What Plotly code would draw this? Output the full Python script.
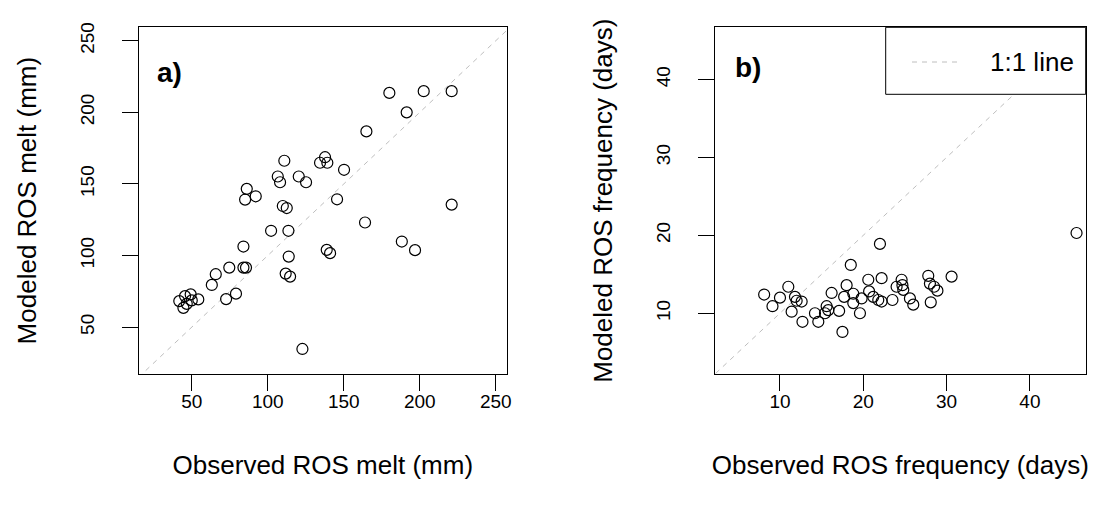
import plotly.graph_objects as go

# Panel a: ROS melt (mm)
obs_melt = [180.0, 202.6, 221.0, 191.4, 164.9, 110.9, 137.7, 134.4, 139.2, 150.2,
            106.6, 108.1, 120.4, 125.2, 86.2, 85.1, 92.1, 145.6, 109.9, 112.5,
            221.0, 164.0, 102.2, 113.6, 188.2, 196.9, 138.8, 141.0, 84.0, 113.8,
            74.7, 84.0, 85.7, 65.8, 63.2, 111.8, 114.7, 79.1, 72.6, 122.8,
            41.8, 44.5, 45.6, 49.3, 50.0, 54.3, 46.7]
mod_melt = [213.6, 214.8, 214.8, 200.0, 186.7, 166.2, 168.7, 164.8, 164.8, 159.9,
            155.2, 151.2, 155.2, 151.2, 146.6, 139.1, 141.4, 139.3, 134.6, 133.2,
            135.6, 123.1, 117.3, 117.3, 109.8, 103.8, 104.0, 101.7, 106.3, 99.3,
            91.6, 91.6, 91.6, 87.0, 79.5, 87.4, 85.3, 73.4, 69.6, 34.8,
            68.2, 63.5, 71.7, 72.9, 68.7, 69.4, 66.3]

# Panel b: ROS frequency (days)
obs_freq = [8.1, 11.0, 10.0, 9.1, 11.8, 12.0, 12.6, 11.4, 12.7, 14.2,
            14.6, 15.4, 15.6, 15.8, 16.2, 17.1, 17.5, 17.7, 18.0, 18.8,
            18.8, 19.6, 19.8, 20.6, 20.7, 21.2, 21.8, 22.2, 22.2, 23.5,
            24.0, 24.6, 24.7, 24.8, 25.6, 26.0, 27.8, 28.0, 28.5, 28.9,
            28.1, 30.6, 18.5, 22.0, 45.6]
mod_freq = [12.4, 13.4, 12.0, 10.9, 12.1, 11.6, 11.5, 10.2, 8.9, 10.0,
            8.9, 10.0, 10.9, 10.4, 12.6, 10.3, 7.6, 12.1, 13.6, 12.5,
            11.3, 10.0, 11.9, 14.3, 12.8, 12.1, 11.7, 14.5, 11.5, 11.7,
            13.4, 14.3, 13.6, 13.0, 11.9, 11.1, 14.8, 13.8, 13.4, 12.9,
            11.4, 14.7, 16.2, 18.9, 20.3]

range_a_x = [15.3, 257.2]
range_a_y = [17.3, 259.4]
range_b = [2.2, 46.7]
ticks_a = [50, 100, 150, 200, 250]
ticks_b = [10, 20, 30, 40]

FONT = "Liberation Sans, Arial, sans-serif"
LINE_GRAY = "#BEBEBE"

# page has an 8px body margin; figure sized to fit the 1100x510 window
OFF = 8
W, H = 1100 - OFF, 510 - OFF


def px_x(p):
    return (p - OFF) / W


def px_y(p):
    return 1 - (p - OFF) / H


fig = go.Figure()

# 1:1 lines
fig.add_trace(go.Scatter(x=[-100, 400], y=[-100, 400], mode="lines",
                         line=dict(color=LINE_GRAY, width=1, dash="5px,5px"),
                         xaxis="x", yaxis="y", showlegend=False, hoverinfo="skip"))
fig.add_trace(go.Scatter(x=[-10, 60], y=[-10, 60], mode="lines",
                         line=dict(color=LINE_GRAY, width=1, dash="5px,5px"),
                         xaxis="x2", yaxis="y2", showlegend=False, hoverinfo="skip"))

marker = dict(symbol="circle-open", size=11, color="black", line=dict(width=1.2, color="black"))
fig.add_trace(go.Scatter(x=obs_melt, y=mod_melt, mode="markers", marker=marker,
                         xaxis="x", yaxis="y", showlegend=False))
fig.add_trace(go.Scatter(x=obs_freq, y=mod_freq, mode="markers", marker=marker,
                         xaxis="x2", yaxis="y2", showlegend=False))


def axis_common(**kw):
    d = dict(showline=True, mirror=True, linecolor="black", linewidth=1,
             ticks="outside", ticklen=16, tickwidth=1, tickcolor="black",
             showgrid=False, zeroline=False, automargin=False,
             tickfont=dict(family=FONT, size=19, color="black"))
    d.update(kw)
    return d


dom_y = [px_y(374), px_y(27.3)]
fig.update_layout(
    width=W, height=H,
    margin=dict(l=0, r=0, t=0, b=0, autoexpand=False),
    paper_bgcolor="white", plot_bgcolor="white",
    font=dict(family=FONT, color="black"),
    xaxis=axis_common(domain=[px_x(139), px_x(506.7)], range=range_a_x, tickvals=ticks_a,
                      ticklabelstandoff=-6,
                      title=dict(text="Observed ROS melt (mm)", font=dict(size=26), standoff=45),
                      anchor="y"),
    yaxis=axis_common(domain=dom_y, range=range_a_y, tickvals=ticks_a, tickangle=-90,
                      ticklabelstandoff=20,
                      title=dict(text="Modeled ROS melt (mm)", font=dict(size=26), standoff=33),
                      anchor="x"),
    xaxis2=axis_common(domain=[px_x(715), px_x(1085.7)], range=range_b, tickvals=ticks_b,
                       ticklabelstandoff=-6,
                       title=dict(text="Observed ROS frequency (days)", font=dict(size=26), standoff=45),
                       anchor="y2"),
    yaxis2=axis_common(domain=dom_y, range=range_b, tickvals=ticks_b, tickangle=-90,
                       ticklabelstandoff=20,
                       title=dict(text="Modeled ROS frequency (days)", font=dict(size=26), standoff=33),
                       anchor="x2"),
)

# Panel labels
fig.add_annotation(text="<b>a)</b>", xref="x domain", yref="y domain", x=0.043, y=0.871,
                   xanchor="left", yanchor="middle", showarrow=False,
                   font=dict(family=FONT, size=28, color="black"))
fig.add_annotation(text="<b>b)</b>", xref="x2 domain", yref="y2 domain", x=0.048, y=0.883,
                   xanchor="left", yanchor="middle", showarrow=False,
                   font=dict(family=FONT, size=28, color="black"))

# Legend box (panel b)
fig.add_shape(type="rect", xref="paper", yref="paper",
              x0=px_x(885.7), x1=px_x(1085.7), y0=px_y(94.3), y1=px_y(27.3),
              line=dict(color="black", width=1), fillcolor="white", layer="above")
fig.add_shape(type="line", xref="paper", yref="paper",
              x0=px_x(912), x1=px_x(962), y0=px_y(62), y1=px_y(62),
              line=dict(color=LINE_GRAY, width=1, dash="5px,5px"), layer="above")
fig.add_annotation(text="1:1 line", xref="paper", yref="paper", x=px_x(988), y=px_y(62),
                   xanchor="left", yanchor="middle", showarrow=False,
                   font=dict(family=FONT, size=26, color="black"))

fig.write_html("out.html")
